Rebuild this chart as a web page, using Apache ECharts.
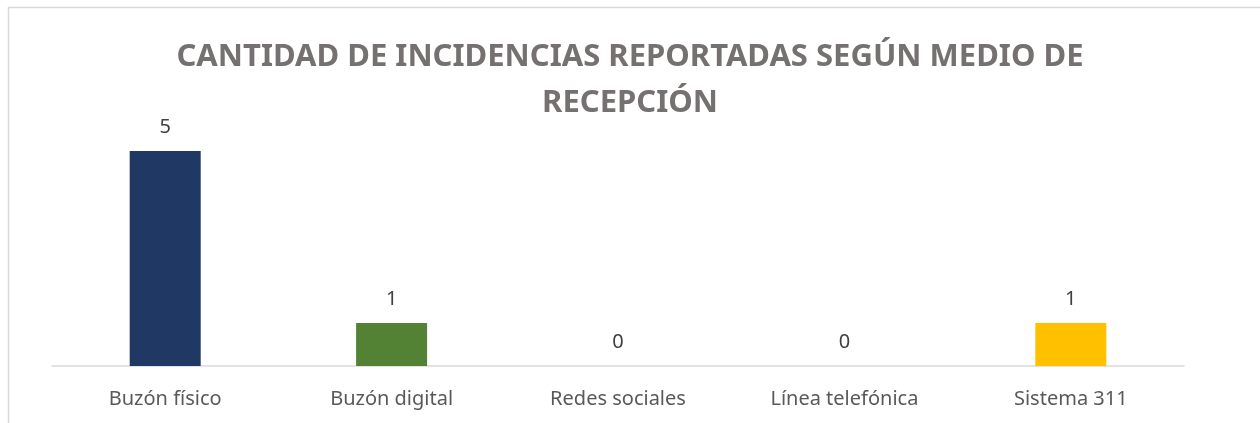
<!DOCTYPE html>
<html>
<head>
<meta charset="utf-8">
<script src="https://cdn.jsdelivr.net/npm/echarts@6/dist/echarts.min.js"></script>
<style>
  html, body { margin: 0; padding: 0; background: #fff; }
  #chart { width: 1260px; height: 423px; }
</style>
</head>
<body>
<div id="chart"></div>
<script>
const categories = ['Buzón físico', 'Buzón digital', 'Redes sociales', 'Línea telefónica', 'Sistema 311'];
const values = [5, 1, 0, 0, 1];
const barColors = ['#203864', '#548235', '#A5A5A5', '#4472C4', '#FFC000'];

const chart = echarts.init(document.getElementById('chart'));
chart.setOption({
  animation: false,
  title: {
    text: 'CANTIDAD DE INCIDENCIAS REPORTADAS SEGÚN MEDIO DE\nRECEPCIÓN',
    left: 'center',
    top: 29,
    textStyle: {
      fontFamily: 'Noto Sans',
      fontWeight: 'bold',
      fontSize: 31,
      lineHeight: 46,
      color: '#757171'
    }
  },
  graphic: [{
    type: 'rect',
    shape: { x: 8.5, y: 7.5, width: 1400, height: 600 },
    style: { fill: 'none', stroke: '#D9D9D9', lineWidth: 1.5 },
    silent: true
  }],
  grid: { left: 52, right: 76, top: 108, bottom: 57 },
  xAxis: {
    type: 'category',
    data: categories,
    axisLine: { lineStyle: { color: '#D9D9D9', width: 1.5 } },
    axisTick: { show: false },
    axisLabel: {
      margin: 23,
      fontFamily: 'Noto Sans',
      fontSize: 20,
      color: '#595959'
    }
  },
  yAxis: {
    type: 'value',
    min: 0,
    max: 6,
    show: false,
    splitLine: { show: false }
  },
  series: [{
    type: 'bar',
    data: values.map((v, i) => ({ value: v, itemStyle: { color: barColors[i] } })),
    barWidth: 71,
    label: {
      show: true,
      position: 'top',
      distance: 14,
      fontFamily: 'Noto Sans',
      fontSize: 20,
      color: '#404040'
    }
  }]
});
</script>
</body>
</html>
